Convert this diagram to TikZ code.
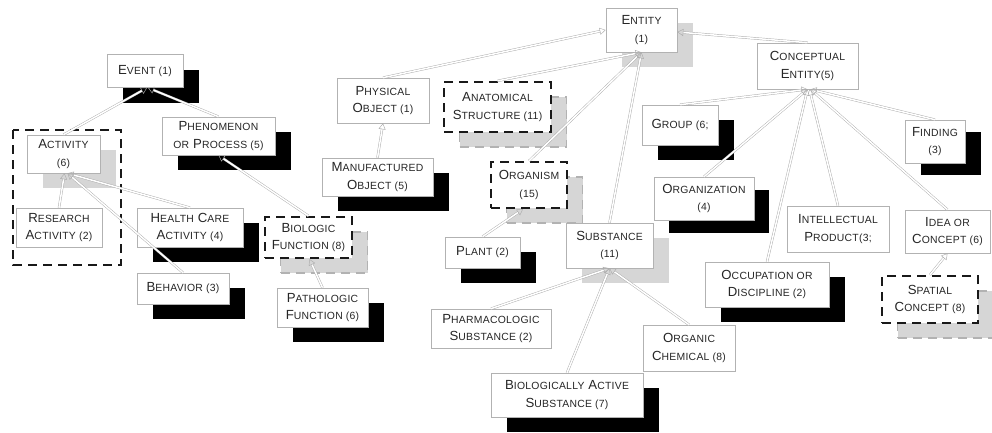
\documentclass[tikz,border=0pt]{standalone}
\usepackage{fontspec}
\setmainfont[LetterSpace=2.5]{Liberation Sans}
\usetikzlibrary{arrows.meta,shadows}
\newcommand\sk[1]{{\fontsize{10.4}{12}\selectfont #1}}
\begin{document}
\begin{tikzpicture}[x=1pt,y=-1pt,
  concept/.style={draw=gray!60, line width=0.6pt, fill=white, align=center,
    inner sep=0pt, text=black!85,
    font=\fontsize{13.2}{17.5}\selectfont},
  dashbox/.style={concept, draw=black!90, line width=2.2pt,
    dash pattern=on 9pt off 6pt},
  blackshadow/.style={drop shadow={shadow xshift=15.5pt, shadow yshift=-15pt,
    opacity=1, fill=black}},
  grayshadow/.style={drop shadow={shadow xshift=15.5pt, shadow yshift=-15pt,
    opacity=1, fill=gray!32}},
  grayshadowd/.style={drop shadow={shadow xshift=15.5pt, shadow yshift=-15pt,
    opacity=1, fill=gray!32, draw=gray!60, line width=1.2pt,
    dash pattern=on 9pt off 6pt}},
  isa/.style={draw=gray!65, line width=0.45pt, double=white,
    double distance=1.5pt, -{Triangle[open, length=6pt, width=7pt]}},
  group/.style={draw=black!90, line width=2pt, dash pattern=on 9pt off 6pt}
]
\useasboundingbox (0,0) rectangle (992,432);

% ---- event branch ----
\draw[group] (13,130) rectangle (121,265);
\node[concept, blackshadow, minimum width=76pt, minimum height=33pt] (event) at (145,71)
  {E\sk{VENT (1)}};
\node[concept, blackshadow, minimum width=113pt, minimum height=38pt] (phenomenon) at (218.5,136)
  {P\sk{HENOMENON}\\\sk{OR} P\sk{ROCESS (5)}};
\node[concept, grayshadow, minimum width=73pt, minimum height=38pt] (activity) at (63.5,154)
  {A\sk{CTIVITY}\\\sk{(6)}};
\node[concept, minimum width=86pt, minimum height=39pt] (research) at (59,227.5)
  {R\sk{ESEARCH}\\A\sk{CTIVITY (2)}};
\node[concept, blackshadow, minimum width=106pt, minimum height=39pt] (health) at (190,227.5)
  {H\sk{EALTH} C\sk{ARE}\\A\sk{CTIVITY (4)}};
\node[concept, blackshadow, minimum width=92pt, minimum height=31pt] (behavior) at (183,288.5)
  {B\sk{EHAVIOR (3)}};
\node[dashbox, grayshadowd, minimum width=87pt, minimum height=41pt] (biologic) at (308.5,237.5)
  {B\sk{IOLOGIC}\\F\sk{UNCTION (8)}};
\node[concept, blackshadow, minimum width=91pt, minimum height=39pt] (pathologic) at (322.5,307.5)
  {P\sk{ATHOLOGIC}\\F\sk{UNCTION (6)}};

% ---- entity branch ----
\node[concept, grayshadow, minimum width=71pt, minimum height=44pt] (entity) at (641.5,30)
  {E\sk{NTITY}\\\sk{(1)}};
\node[concept, minimum width=92pt, minimum height=45pt] (physical) at (383,100.5)
  {P\sk{HYSICAL}\\O\sk{BJECT (1)}};
\node[dashbox, grayshadowd, minimum width=107pt, minimum height=50pt] (anatomical) at (497.5,107)
  {A\sk{NATOMICAL}\\S\sk{TRUCTURE (11)}};
\node[concept, blackshadow, minimum width=111pt, minimum height=38pt] (manufactured) at (377.5,177)
  {M\sk{ANUFACTURED}\\O\sk{BJECT (5)}};
\node[dashbox, grayshadowd, minimum width=76pt, minimum height=46pt] (organism) at (529,185)
  {O\sk{RGANISM}\\\sk{(15)}};
\node[concept, blackshadow, minimum width=75pt, minimum height=31pt] (plant) at (482.5,252.5)
  {P\sk{LANT (2)}};
\node[concept, grayshadow, minimum width=87pt, minimum height=45pt] (substance) at (609.5,245.5)
  {S\sk{UBSTANCE}\\\sk{(11)}};
\node[concept, minimum width=120pt, minimum height=39pt] (pharma) at (491,328.5)
  {P\sk{HARMACOLOGIC}\\S\sk{UBSTANCE (2)}};
\node[concept, minimum width=92pt, minimum height=46pt] (organic) at (689,348)
  {O\sk{RGANIC}\\C\sk{HEMICAL (8)}};
\node[concept, blackshadow, minimum width=152pt, minimum height=44pt] (bioactive) at (567,395)
  {B\sk{IOLOGICALLY} A\sk{CTIVE}\\S\sk{UBSTANCE (7)}};

% ---- conceptual entity branch ----
\node[concept, minimum width=101pt, minimum height=46pt] (conceptual) at (807.5,66)
  {C\sk{ONCEPTUAL}\\E\sk{NTITY(5)}};
\node[concept, blackshadow, minimum width=76pt, minimum height=40pt] (grp) at (680,125)
  {G\sk{ROUP (6;}};
\node[concept, drop shadow={shadow xshift=16pt, shadow yshift=-12pt, opacity=1, fill=black},
  minimum width=60pt, minimum height=43pt] (finding) at (935,141.5)
  {F\sk{INDING}\\\sk{(3)}};
\node[concept, drop shadow={shadow xshift=15pt, shadow yshift=-13pt, opacity=1, fill=black},
  minimum width=100pt, minimum height=43pt] (organization) at (704,198.5)
  {O\sk{RGANIZATION}\\\sk{(4)}};
\node[concept, minimum width=102pt, minimum height=46pt] (intellectual) at (838,229)
  {I\sk{NTELLECTUAL}\\P\sk{RODUCT(3;}};
\node[concept, minimum width=85pt, minimum height=43pt] (idea) at (947.5,231.5)
  {I\sk{DEA OR}\\C\sk{ONCEPT (6)}};
\node[dashbox, grayshadowd, minimum width=96pt, minimum height=47pt] (spatial) at (930,299.5)
  {S\sk{PATIAL}\\C\sk{ONCEPT (8)}};
\node[concept, blackshadow, minimum width=124pt, minimum height=45pt] (occupation) at (767,284.5)
  {O\sk{CCUPATION OR}\\D\sk{ISCIPLINE (2)}};

% ---- is-a links ----
\draw[isa] (activity.north) -- ([xshift=2pt]event.south);
\draw[isa] (phenomenon.north) -- ([xshift=3pt]event.south);
\draw[isa] (research.north) -- ([xshift=1pt]activity.south);
\draw[isa] (health.north) -- ([xshift=4pt]activity.south);
\draw[isa] (behavior.north) -- ([xshift=4pt]activity.south);
\draw[isa] (biologic.north) -- (phenomenon.south);
\draw[isa] (pathologic.north) -- ([xshift=1pt]biologic.south);

\draw[isa] (physical.north) -- (entity.west);
\draw[isa] (manufactured.north) -- (physical.south);
\draw[isa] (anatomical.north) -- (entity.south);
\draw[isa] (organism.north) -- (entity.south);
\draw[isa] (substance.north) -- (entity.south);
\draw[isa] (conceptual.north) -- ([yshift=-2pt]entity.east);
\draw[isa] (plant.north) -- ([xshift=-6pt]organism.south);
\draw[isa] (pharma.north) -- (substance.south);
\draw[isa] (bioactive.north) -- (substance.south);
\draw[isa] (organic.north) -- (substance.south);

\draw[isa] (grp.north) -- (conceptual.south);
\draw[isa] (finding.north) -- ([xshift=3pt]conceptual.south);
\draw[isa] (organization.north) -- (conceptual.south);
\draw[isa] (occupation.north) -- (conceptual.south);
\draw[isa] (intellectual.north) -- ([xshift=2pt]conceptual.south);
\draw[isa] (idea.north) -- ([xshift=3pt]conceptual.south);
\draw[isa] (spatial.north) -- (idea.south);
\end{tikzpicture}
\end{document}
